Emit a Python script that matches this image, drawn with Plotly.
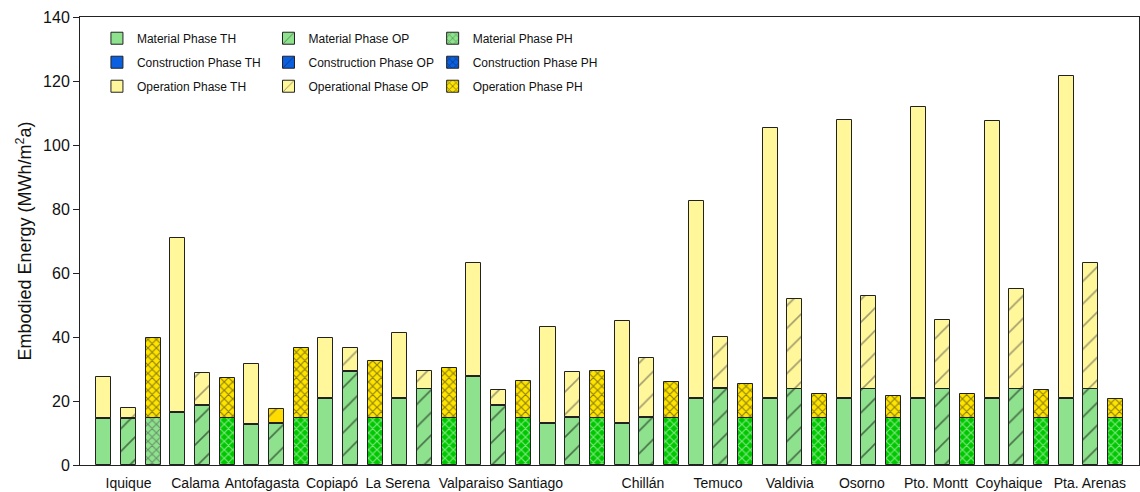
import plotly.graph_objects as go

# ---------------- data ----------------
cities = ["Iquique", "Calama", "Antofagasta", "Copiapó", "La Serena", "Valparaiso",
          "Santiago", "Chillán", "Temuco", "Valdivia", "Osorno", "Pto. Montt",
          "Coyhaique", "Pta. Arenas"]

material_th = [14.4, 16.4, 12.6, 20.5, 20.5, 27.6, 12.8, 12.8, 20.5, 20.5, 20.5, 20.5, 20.5, 20.5]
construction_th = [0.3, 0.3, 0.3, 0.3, 0.3, 0.3, 0.3, 0.3, 0.3, 0.3, 0.3, 0.3, 0.3, 0.3]
operation_th = [12.7, 54.2, 18.8, 19.0, 20.4, 35.2, 30.1, 32.0, 61.7, 84.6, 87.0, 91.0, 86.6, 100.9]

material_op = [14.4, 18.4, 12.7, 29.0, 23.6, 18.4, 14.6, 14.6, 23.7, 23.6, 23.6, 23.6, 23.6, 23.6]
construction_op = [0.3, 0.3, 0.3, 0.3, 0.3, 0.3, 0.3, 0.3, 0.3, 0.3, 0.3, 0.3, 0.3, 0.3]
operation_op = [3.1, 9.9, 4.6, 7.4, 5.4, 4.7, 14.1, 18.4, 16.1, 27.9, 28.9, 21.4, 31.1, 39.1]

material_ph = [14.6, 14.6, 14.6, 14.6, 14.6, 14.6, 14.6, 14.6, 14.6, 14.6, 14.6, 14.6, 14.6, 14.6]
construction_ph = [0, 0, 0, 0, 0, 0, 0, 0, 0, 0, 0, 0, 0, 0]
operation_ph = [25.1, 12.6, 22.1, 17.9, 15.8, 11.6, 14.9, 11.4, 10.8, 7.6, 7.1, 7.7, 8.9, 5.9]

y_ticks = [0, 20, 40, 60, 80, 100, 120, 140]

# ---------------- styling ----------------
FONT = "Liberation Sans, Arial, sans-serif"
LIGHT_GREEN = "#8ee28e"
GREEN = "#00c800"
BLUE = "#0a5fe0"
LIGHT_YELLOW = "#fff799"
GOLD = "#ffe400"
EDGE = "#222222"
BAR_W = 0.61

# per-label horizontal nudge (in bar slots) to follow the original label placement
label_shift = [0.0, -0.29, -0.59, -0.75, -1.09, -1.11, -1.51, -0.15, -0.11, -0.2, -0.28, -0.28, -0.32, -0.04]

n = len(cities)
x_th = [3 * i + 0 for i in range(n)]
x_op = [3 * i + 1 for i in range(n)]
x_ph = [3 * i + 2 for i in range(n)]

# special bar colours seen in the original
mat_ph_colors = [LIGHT_GREEN if c == "Iquique" else GREEN for c in cities]
mat_ph_fg = ["#2d6b2d" if c == "Iquique" else "#062006" for c in cities]
op_op_colors = ["#ffdc00" if c == "Antofagasta" else LIGHT_YELLOW for c in cities]


def bar(name, x, y, color, legend, group, shape="", fg="#111111", size=8, solidity=0.2):
    marker = dict(color=color, line=dict(color=EDGE, width=1))
    if shape:
        marker["pattern"] = dict(shape=shape, fgcolor=fg, bgcolor=color, size=size,
                                 solidity=solidity)
    return go.Bar(name=name, x=x, y=y, width=BAR_W, marker=marker, legend=legend,
                  legendgroup=group, hoverinfo="x+y+name")


fig = go.Figure()
# TH
fig.add_trace(bar("Material Phase TH", x_th, material_th, LIGHT_GREEN, "legend", "a1"))
fig.add_trace(bar("Construction Phase TH", x_th, construction_th, BLUE, "legend", "a2"))
fig.add_trace(bar("Operation Phase TH", x_th, operation_th, LIGHT_YELLOW, "legend", "a3"))
# OP
fig.add_trace(bar("Material Phase OP", x_op, material_op, LIGHT_GREEN, "legend2", "b1",
                  shape="/", fg="#000000", size=16, solidity=0.1))
fig.add_trace(bar("Construction Phase OP", x_op, construction_op, BLUE, "legend2", "b2",
                  shape="/", fg="#000000", size=16, solidity=0.1))
fig.add_trace(bar("Operational Phase OP", x_op, operation_op, op_op_colors, "legend2", "b3",
                  shape="/", fg="#000000", size=16, solidity=0.1))
# PH
fig.add_trace(bar("Material Phase PH", x_ph, material_ph, mat_ph_colors, "legend3", "c1",
                  shape="x", fg=mat_ph_fg, size=6, solidity=0.35))
fig.add_trace(bar("Construction Phase PH", x_ph, construction_ph, BLUE, "legend3", "c2",
                  shape="x", fg="#0a1a3a", size=6, solidity=0.35))
fig.add_trace(bar("Operation Phase PH", x_ph, operation_ph, GOLD, "legend3", "c3",
                  shape="x", fg="#1a1a1a", size=6, solidity=0.35))

legend_common = dict(orientation="v", yanchor="top", xanchor="left", y=0.985,
                     bgcolor="rgba(0,0,0,0)", borderwidth=0,
                     font=dict(family=FONT, size=12, color="#111111"),
                     traceorder="grouped", tracegroupgap=5, itemwidth=30)

fig.update_layout(
    width=1140, height=492,
    margin=dict(l=80, r=1, t=17, b=27),
    paper_bgcolor="white", plot_bgcolor="white",
    barmode="relative", bargap=0,
    font=dict(family=FONT, color="#111111"),
    showlegend=True,
    legend=dict(x=0.016, **legend_common),
    legend2=dict(x=0.178, **legend_common),
    legend3=dict(x=0.333, **legend_common),
    xaxis=dict(range=[-0.965, 41.95], tickmode="array",
               tickvals=[3 * i + 1 + s for i, s in enumerate(label_shift)],
               ticktext=cities, ticks="", showgrid=False, zeroline=False,
               showline=True, linecolor="#222222", linewidth=1, mirror=True,
               ticklabelstandoff=5,
               tickfont=dict(family=FONT, size=14, color="#111111"), automargin=False),
    yaxis=dict(range=[0, 140], tickmode="array", tickvals=y_ticks,
               ticks="outside", ticklen=6, tickcolor="#222222", showgrid=False,
               zeroline=False, showline=True, linecolor="#222222", linewidth=1, mirror=True,
               tickfont=dict(family=FONT, size=16, color="#111111"), automargin=False,
               title=dict(text="Embodied Energy (MWh/m<sup>2</sup>a)",
                          font=dict(family=FONT, size=18, color="#111111"), standoff=6)),
)

fig.write_html("out.html", config={"displayModeBar": False},
               post_script="document.body.style.margin='0';")
